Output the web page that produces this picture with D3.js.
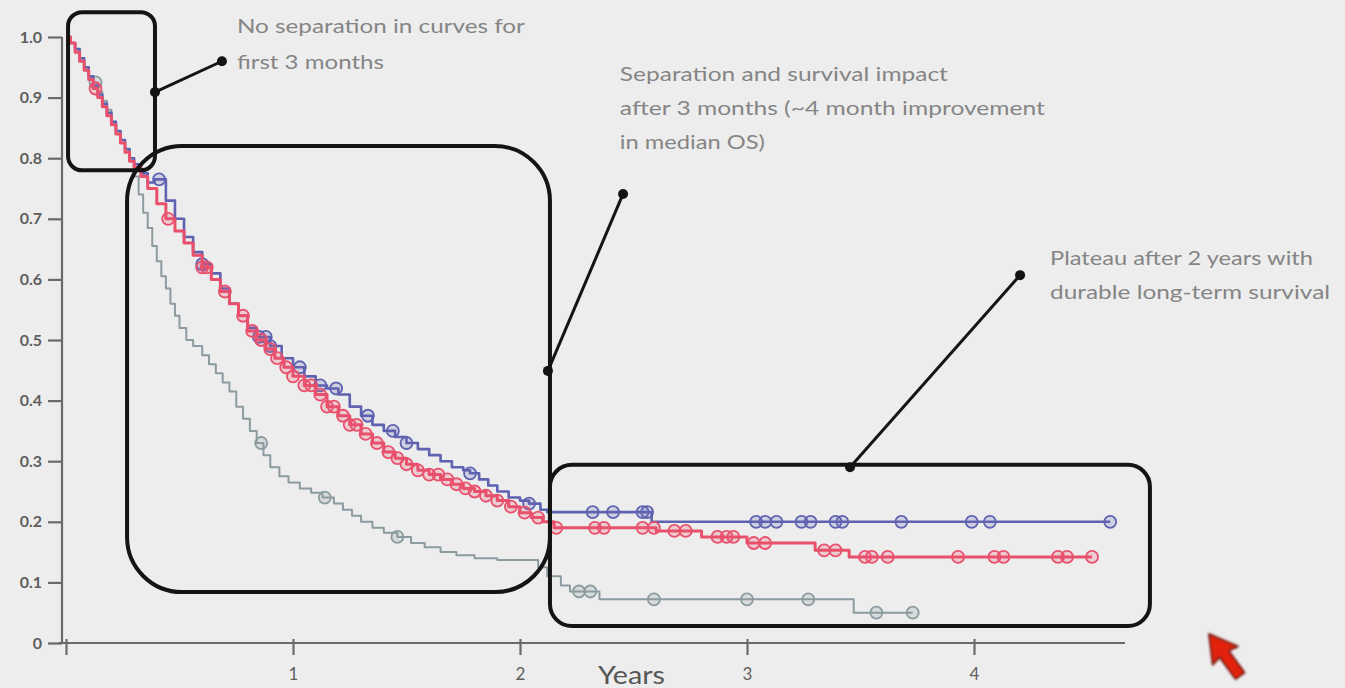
<!DOCTYPE html>
<html>
<head>
<meta charset="utf-8">
<script src="https://cdn.jsdelivr.net/npm/d3@7"></script>
<style>
  html, body { margin: 0; padding: 0; background: #ededed; }
  svg { display: block; }
</style>
</head>
<body>
<svg id="chart" width="1345" height="688"></svg>
<script>
// ---------------- DATA ----------------
const yTicks = [0, 0.1, 0.2, 0.3, 0.4, 0.5, 0.6, 0.7, 0.8, 0.9, 1.0];
const yTickLabels = ["0", "0.1", "0.2", "0.3", "0.4", "0.5", "0.6", "0.7", "0.8", "0.9", "1.0"];
const xTicks = [1, 2, 3, 4];
const xTickLabels = ["1", "2", "3", "4"];
const xAxisLabel = "Years";

// Kaplan–Meier step points: [years, survival]
const blueTimes = [0, 0.02, 0.04, 0.06, 0.08, 0.10, 0.12, 0.14, 0.16, 0.18, 0.20, 0.22, 0.24, 0.26, 0.28, 0.30, 0.33, 0.36, 0.39, 0.44, 0.48, 0.52, 0.56, 0.60, 0.64, 0.68, 0.72, 0.76, 0.80, 0.84, 0.90, 0.95, 1.00, 1.05, 1.10, 1.15, 1.20, 1.25, 1.30, 1.35, 1.40, 1.45, 1.50, 1.55, 1.60, 1.65, 1.70, 1.75, 1.78, 1.82, 1.86, 1.90, 1.95, 2.00, 2.04, 2.09, 2.12, 2.58, 4.60];
const blueSurv  = [1.0, 0.99, 0.98, 0.965, 0.95, 0.935, 0.92, 0.905, 0.89, 0.875, 0.86, 0.845, 0.83, 0.815, 0.80, 0.79, 0.775, 0.76, 0.765, 0.73, 0.70, 0.67, 0.645, 0.625, 0.61, 0.585, 0.56, 0.54, 0.52, 0.505, 0.49, 0.47, 0.455, 0.44, 0.425, 0.42, 0.41, 0.39, 0.375, 0.36, 0.35, 0.34, 0.33, 0.32, 0.31, 0.30, 0.29, 0.285, 0.28, 0.27, 0.26, 0.25, 0.24, 0.235, 0.23, 0.22, 0.216, 0.20, 0.20];
const blueCensor = [0.41, 0.60, 0.85, 0.88, 0.90, 1.03, 1.12, 1.19, 1.33, 1.44, 1.50, 1.78, 2.04, 2.32, 2.41, 2.54, 2.56, 3.04, 3.08, 3.13, 3.24, 3.28, 3.39, 3.42, 3.68, 3.99, 4.07, 4.60];

const redTimes = [0, 0.02, 0.04, 0.06, 0.08, 0.10, 0.12, 0.14, 0.16, 0.18, 0.20, 0.22, 0.24, 0.26, 0.28, 0.30, 0.33, 0.36, 0.40, 0.44, 0.48, 0.52, 0.56, 0.60, 0.64, 0.68, 0.72, 0.76, 0.80, 0.84, 0.88, 0.92, 0.96, 1.00, 1.05, 1.10, 1.15, 1.20, 1.25, 1.30, 1.35, 1.40, 1.45, 1.50, 1.55, 1.60, 1.65, 1.70, 1.75, 1.80, 1.85, 1.90, 1.95, 2.00, 2.05, 2.10, 2.15, 2.60, 2.80, 3.00, 3.30, 3.45, 4.52];
const redSurv  = [1.0, 0.99, 0.975, 0.96, 0.945, 0.93, 0.915, 0.90, 0.885, 0.87, 0.855, 0.84, 0.825, 0.81, 0.795, 0.785, 0.77, 0.75, 0.725, 0.70, 0.68, 0.66, 0.64, 0.62, 0.60, 0.58, 0.56, 0.54, 0.515, 0.50, 0.485, 0.47, 0.455, 0.44, 0.425, 0.41, 0.39, 0.375, 0.36, 0.345, 0.33, 0.315, 0.305, 0.295, 0.285, 0.278, 0.27, 0.262, 0.255, 0.25, 0.243, 0.235, 0.225, 0.215, 0.207, 0.20, 0.19, 0.185, 0.175, 0.165, 0.153, 0.142, 0.142];
const redCensor = [0.13, 0.45, 0.60, 0.62, 0.70, 0.78, 0.82, 0.86, 0.90, 0.93, 0.97, 1.00, 1.05, 1.08, 1.12, 1.15, 1.18, 1.22, 1.25, 1.28, 1.32, 1.37, 1.42, 1.46, 1.50, 1.55, 1.60, 1.64, 1.68, 1.72, 1.76, 1.80, 1.85, 1.90, 1.96, 2.02, 2.08, 2.16, 2.33, 2.37, 2.54, 2.59, 2.68, 2.73, 2.87, 2.91, 2.94, 3.03, 3.08, 3.34, 3.39, 3.52, 3.55, 3.62, 3.93, 4.09, 4.13, 4.37, 4.41, 4.52];

const grayTimes = [0, 0.02, 0.04, 0.06, 0.08, 0.10, 0.12, 0.14, 0.16, 0.18, 0.20, 0.22, 0.24, 0.26, 0.28, 0.30, 0.32, 0.34, 0.36, 0.38, 0.40, 0.42, 0.44, 0.46, 0.48, 0.50, 0.53, 0.56, 0.60, 0.63, 0.66, 0.69, 0.72, 0.75, 0.78, 0.81, 0.84, 0.87, 0.90, 0.94, 0.98, 1.03, 1.08, 1.13, 1.18, 1.22, 1.26, 1.30, 1.35, 1.40, 1.46, 1.52, 1.58, 1.65, 1.72, 1.80, 1.90, 2.08, 2.12, 2.18, 2.22, 2.35, 3.47, 3.73];
const graySurv  = [1.0, 0.99, 0.975, 0.96, 0.945, 0.935, 0.925, 0.91, 0.895, 0.88, 0.86, 0.845, 0.83, 0.815, 0.80, 0.77, 0.74, 0.71, 0.685, 0.655, 0.63, 0.605, 0.585, 0.56, 0.54, 0.52, 0.50, 0.49, 0.475, 0.46, 0.445, 0.43, 0.415, 0.39, 0.37, 0.35, 0.33, 0.31, 0.29, 0.275, 0.265, 0.255, 0.248, 0.24, 0.23, 0.22, 0.21, 0.20, 0.19, 0.182, 0.175, 0.165, 0.158, 0.15, 0.145, 0.14, 0.137, 0.125, 0.11, 0.095, 0.085, 0.072, 0.05, 0.05];
const grayCensor = [0.13, 0.86, 1.14, 1.46, 2.26, 2.31, 2.59, 3.00, 3.27, 3.57, 3.73];

// Annotations (in data units: years / survival)
const annoBoxes = [
  { t0: 0.009, t1: 0.392, v0: 1.041, v1: 0.780, r: 14 },
  { t0: 0.269, t1: 2.132, v0: 0.820, v1: 0.084, r: 55 },
  { t0: 2.132, t1: 4.775, v0: 0.294, v1: 0.028, r: 22 }
];
const annoLinks = [
  { ta: 0.392, va: 0.909, tb: 0.687, vb: 0.960 },
  { ta: 2.123, va: 0.449, tb: 2.454, vb: 0.741 },
  { ta: 3.454, va: 0.290, tb: 4.203, vb: 0.607 }
];
const annoTexts = [
  { t: 0.753, v: 1.007, text: "No separation in curves for", w: 288 },
  { t: 0.753, v: 0.947, text: "first 3 months", w: 147 },
  { t: 2.44, v: 0.927, text: "Separation and survival impact", w: 328 },
  { t: 2.44, v: 0.871, text: "after 3 months (~4 month improvement", w: 425 },
  { t: 2.44, v: 0.815, text: "in median OS)", w: 145 },
  { t: 4.335, v: 0.624, text: "Plateau after 2 years with", w: 263 },
  { t: 4.335, v: 0.568, text: "durable long-term survival", w: 280 }
];

// ---------------- CHART ----------------
const svg = d3.select("#chart");
const x = d3.scaleLinear().domain([0, 1]).range([66, 293]);
const y = d3.scaleLinear().domain([0, 1]).range([643, 37]);

svg.append("rect").attr("width", 1345).attr("height", 688).attr("fill", "#ededed");

const axisColor = "#6a6a6a";
const labelColor = "#5e5e5e";

// Y axis
const yAxis = d3.axisLeft(y)
  .tickValues(yTicks)
  .tickFormat((d, i) => yTickLabels[i])
  .tickSize(14)
  .tickPadding(6);
const gy = svg.append("g").attr("transform", "translate(62,0)").call(yAxis);
gy.select(".domain").attr("stroke", axisColor).attr("stroke-width", 2.2).attr("d", `M0,${y(0)}V${y(1)}`);
gy.selectAll(".tick line").attr("stroke", axisColor).attr("stroke-width", 2.2);
gy.selectAll(".tick text")
  .attr("fill", labelColor)
  .attr("font-family", "Lato, 'Open Sans', sans-serif")
  .attr("font-weight", "bold")
  .attr("font-size", 16);

// X axis
const xAxis = d3.axisBottom(x)
  .tickValues([0].concat(xTicks))
  .tickFormat((d) => { const i = xTicks.indexOf(d); return i >= 0 ? xTickLabels[i] : ""; })
  .tickSize(12)
  .tickPadding(13);
const gx = svg.append("g").attr("transform", `translate(0,${y(0)})`).call(xAxis);
gx.select(".domain").attr("stroke", axisColor).attr("stroke-width", 2.2).attr("d", `M58,0H1125`);
gx.selectAll(".tick line").attr("stroke", axisColor).attr("stroke-width", 2.2).attr("y1", -4);
gx.selectAll(".tick text")
  .attr("fill", labelColor)
  .attr("font-family", "Lato, 'Open Sans', sans-serif")
  .attr("font-size", 17);

svg.append("text")
  .attr("x", 598).attr("y", 684)
  .attr("fill", "#555")
  .attr("font-family", "Lato, 'Open Sans', sans-serif")
  .attr("font-size", 25)
  .attr("textLength", 67).attr("lengthAdjust", "spacingAndGlyphs")
  .text(xAxisLabel);

// Curves
const series = [
  { times: grayTimes, surv: graySurv, censor: grayCensor, color: "#8c9ba0", width: 2 },
  { times: blueTimes, surv: blueSurv, censor: blueCensor, color: "#5e62b0", width: 2.6 },
  { times: redTimes, surv: redSurv, censor: redCensor, color: "#e8506c", width: 3 }
];

function survAt(s, t) {
  const i = d3.bisectRight(s.times, t) - 1;
  return s.surv[Math.max(0, i)];
}

const line = d3.line()
  .x(d => x(d[0]))
  .y(d => y(d[1]))
  .curve(d3.curveStepAfter);

const curves = svg.append("g");
series.forEach(s => {
  const pts = s.times.map((t, i) => [t, s.surv[i]]);
  curves.append("path")
    .datum(pts)
    .attr("fill", "none")
    .attr("stroke", s.color)
    .attr("stroke-width", s.width)
    .attr("stroke-linejoin", "round")
    .attr("d", line);
  curves.append("g").selectAll("circle")
    .data(s.censor)
    .join("circle")
    .attr("cx", t => x(t))
    .attr("cy", t => y(survAt(s, t)))
    .attr("r", 6)
    .attr("fill", s.color)
    .attr("fill-opacity", 0.22)
    .attr("stroke", s.color)
    .attr("stroke-width", 1.8);
});

// Annotations
const anno = svg.append("g");
anno.selectAll("rect.box")
  .data(annoBoxes)
  .join("rect")
  .attr("class", "box")
  .attr("x", d => x(d.t0))
  .attr("y", d => y(d.v0))
  .attr("width", d => x(d.t1) - x(d.t0))
  .attr("height", d => y(d.v1) - y(d.v0))
  .attr("rx", d => d.r).attr("ry", d => d.r)
  .attr("fill", "none")
  .attr("stroke", "#141414")
  .attr("stroke-width", 4);

anno.selectAll("line.link")
  .data(annoLinks)
  .join("line")
  .attr("class", "link")
  .attr("x1", d => x(d.ta)).attr("y1", d => y(d.va))
  .attr("x2", d => x(d.tb)).attr("y2", d => y(d.vb))
  .attr("stroke", "#141414")
  .attr("stroke-width", 3);

anno.selectAll("circle.dot")
  .data(annoLinks.flatMap(d => [[d.ta, d.va], [d.tb, d.vb]]))
  .join("circle")
  .attr("class", "dot")
  .attr("cx", d => x(d[0])).attr("cy", d => y(d[1]))
  .attr("r", 5)
  .attr("fill", "#141414");

anno.selectAll("text.note")
  .data(annoTexts)
  .join("text")
  .attr("class", "note")
  .attr("x", d => x(d.t)).attr("y", d => y(d.v))
  .attr("fill", "#858585")
  .attr("font-family", "Lato, 'Open Sans', sans-serif")
  .attr("font-size", 19)
  .attr("textLength", d => d.w)
  .attr("lengthAdjust", "spacingAndGlyphs")
  .text(d => d.text);

// Mouse pointer (photographed slide cursor)
const defs = svg.append("defs");
defs.append("filter").attr("id", "soft")
  .append("feGaussianBlur").attr("stdDeviation", 1.2);
svg.append("path")
  .attr("transform", "translate(1209,634) rotate(-36)")
  .attr("d", "M0,0 L-15,27 L-5,25 L-5,52 L6,52 L6,25 L16,27 Z")
  .attr("fill", "#e3220f")
  .attr("stroke", "#7a1a12")
  .attr("stroke-width", 2)
  .attr("stroke-linejoin", "round")
  .attr("filter", "url(#soft)");
</script>
</body>
</html>
